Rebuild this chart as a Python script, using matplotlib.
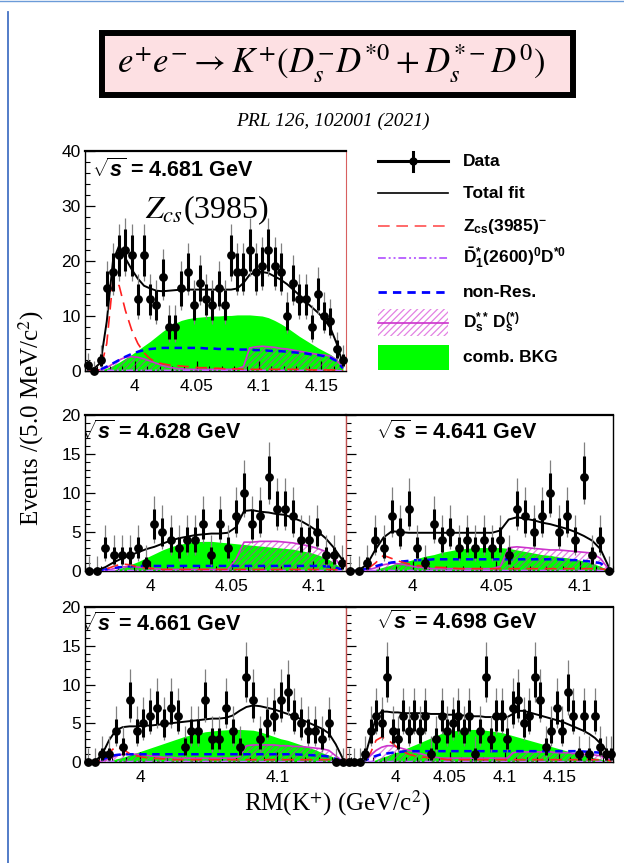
import numpy as np
import matplotlib
matplotlib.use("Agg")
import matplotlib.pyplot as plt
from matplotlib.patches import Rectangle
from matplotlib.ticker import FixedLocator, MultipleLocator, FuncFormatter

plt.rcParams['font.family'] = ['Liberation Sans', 'DejaVu Sans']
plt.rcParams['mathtext.fontset'] = 'custom'
plt.rcParams['mathtext.rm'] = 'Liberation Sans:bold'
plt.rcParams['mathtext.bf'] = 'Liberation Sans:bold'
plt.rcParams['mathtext.it'] = 'Liberation Sans:italic:bold'
plt.rcParams['mathtext.sf'] = 'Liberation Sans:bold'
plt.rcParams['hatch.linewidth'] = 0.9

# ---------------- data: RM(K+) spectra, 5 MeV bins ----------------
# sqrt(s) = 4.681 GeV
start_4681 = 3.9625
counts_4681 = [1, 0, 2, 15, 18, 21, 22, 21, 13, 21, 13, 12, 17, 8, 8, 15, 18, 12, 16, 13,
               12, 15, 12, 21, 18, 18, 22, 18, 19, 22, 19, 18, 10, 16, 13, 13, 8, 14, 10, 9,
               4, 2]
total_4681 = [0.3, 0.5, 1.5, 9, 20, 22.8, 20.5, 18.5, 16.8, 15.5, 15, 14.6, 14.5, 14.6, 14.7,
              14.8, 14.8, 14.8, 14.8, 14.8, 14.8, 14.8, 14.8, 14.8, 15, 16, 17.5, 18, 18, 17.8,
              17.2, 16.6, 15.8, 14.8, 13.8, 12.6, 11.6, 10.6, 9.4, 7.8, 5, 1.2]
zcs_4681 = [0, 0, 0.3, 5, 16.5, 15.5, 11, 7.5, 5, 3.3, 2.2, 1.6, 1.3, 1.1, 1.0, 0.9, 0.8, 0.7,
            0.6, 0.6, 0.5, 0.5, 0.4, 0.4, 0.4, 0.3, 0.3, 0.3, 0.3, 0.3, 0.3, 0.3, 0.3, 0.3,
            0.3, 0.3, 0.2, 0.2, 0.2, 0.2, 0.2, 0.1]
d1_4681 = [0, 0, 0.05, 0.1, 0.1, 0.1, 0.1, 0.1, 0.1, 0.1, 0.1, 0.1, 0.1, 0.1, 0.1, 0.1, 0.1,
           0.1, 0.1, 0.1, 0.1, 0.1, 0.1, 0.1, 0.1, 0.1, 0.1, 0.1, 0.1, 0.1, 0.1, 0.1, 0.1,
           0.1, 0.1, 0.1, 0.1, 0.1, 0.1, 0.1, 0.05, 0]
nonres_4681 = [0, 0, 0.3, 0.8, 1.4, 2.0, 2.6, 3.1, 3.5, 3.8, 4.0, 4.1, 4.2, 4.2, 4.2, 4.2, 4.2,
               4.2, 4.2, 4.1, 4.1, 4.0, 4.0, 4.0, 3.9, 3.9, 3.9, 3.8, 3.8, 3.7, 3.6, 3.6, 3.5,
               3.4, 3.3, 3.2, 3.0, 2.9, 2.7, 2.4, 1.8, 0.5]
dsds_4681 = [0, 0, 0.2, 0.6, 1.3, 2.0, 2.5, 2.6, 2.5, 2.2, 1.8, 1.4, 1.0, 0.7, 0.5, 0.4, 0.3,
             0.3, 0.3, 0.3, 0.3, 0.3, 0.3, 0.3, 0.4, 0.8, 4.2, 4.4, 4.5, 4.4, 4.3, 4.1, 4.0,
             3.8, 3.6, 3.4, 3.2, 3.0, 2.9, 2.7, 2.0, 0.6]
comb_4681 = [0, 0, 0.2, 0.5, 1.0, 1.6, 2.3, 3.0, 3.8, 4.6, 5.4, 6.3, 7.2, 8.0, 8.7, 9.2, 9.5,
             9.7, 9.8, 9.9, 10, 10, 10.1, 10.1, 10.2, 10.2, 10.2, 10.1, 10.0, 9.7, 9.2, 8.6,
             7.9, 7.1, 6.3, 5.6, 4.9, 4.2, 3.6, 3.0, 2.2, 0.8]

# sqrt(s) = 4.628 GeV
start_4628 = 3.9625
counts_4628 = [0, 0, 3, 2, 2, 2, 3, 1, 6, 5, 4, 3, 4, 4, 6, 2, 6, 3, 7, 10, 6, 7, 12, 8, 8, 7,
               4, 4, 5, 2, 2, 1]
total_4628 = [0, 0.1, 0.5, 1.1, 1.6, 2.0, 2.4, 2.8, 3.1, 3.5, 3.9, 4.2, 4.4, 4.6, 4.7, 4.8,
              4.8, 4.9, 5.6, 7.7, 7.8, 7.6, 7.5, 7.3, 7.2, 6.8, 6.4, 5.8, 5.1, 4.2, 3.0, 1.5]
zcs_4628 = [0, 0, 0.2, 0.6, 0.9, 0.8, 0.5, 0.4, 0.3, 0.2, 0.2, 0.2, 0.2, 0.2, 0.2, 0.2, 0.2,
            0.2, 0.2, 0.2, 0.2, 0.2, 0.2, 0.2, 0.2, 0.2, 0.2, 0.2, 0.2, 0.2, 0.2, 0.1]
d1_4628 = [0, 0, 0.05, 0.05, 0.05, 0.05, 0.05, 0.05, 0.05, 0.05, 0.05, 0.05, 0.05, 0.05, 0.05,
           0.05, 0.05, 0.05, 0.05, 0.05, 0.05, 0.05, 0.05, 0.05, 0.05, 0.05, 0.05, 0.05, 0.05,
           0.05, 0.05, 0]
nonres_4628 = [0, 0, 0.2, 0.4, 0.5, 0.6, 0.65, 0.65, 0.65, 0.65, 0.65, 0.65, 0.65, 0.65, 0.65,
               0.65, 0.65, 0.65, 0.65, 0.65, 0.65, 0.65, 0.65, 0.65, 0.65, 0.65, 0.65, 0.65,
               0.65, 0.6, 0.5, 0.2]
dsds_4628 = [0, 0, 0, 0.3, 0.5, 0.6, 0.5, 0.4, 0.3, 0.2, 0.2, 0.2, 0.2, 0.2, 0.2, 0.2, 0.2,
             0.2, 1.5, 3.7, 3.7, 3.8, 3.8, 3.8, 3.7, 3.6, 3.4, 3.2, 2.9, 2.5, 1.8, 0.5]
comb_4628 = [0, 0, 0, 0.1, 0.4, 0.8, 1.2, 1.7, 2.2, 2.7, 3.1, 3.4, 3.6, 3.75, 3.8, 3.8, 3.7,
             3.6, 3.5, 3.4, 3.3, 3.2, 3.1, 3.0, 2.9, 2.8, 2.6, 2.4, 2.1, 1.7, 1.1, 0.3]

# sqrt(s) = 4.641 GeV
start_4641 = 3.9625
counts_4641 = [0, 0, 1, 4, 3, 7, 5, 8, 3, 1, 6, 4, 5, 3, 4, 3, 4, 3, 4, 2, 8, 7, 5, 7, 10, 5,
               7, 4, 12, 2, 4, 0]
total_4641 = [0, 0.1, 0.8, 2.7, 4.3, 5.1, 5.0, 4.9, 4.9, 4.9, 4.9, 4.9, 4.9, 4.9, 4.9, 4.9,
              4.9, 4.9, 5.2, 6.6, 6.9, 6.7, 6.5, 6.2, 6.0, 5.7, 5.4, 5.0, 4.5, 3.9, 2.8, 0.5]
zcs_4641 = [0, 0, 0.2, 1.0, 2.0, 1.6, 1.2, 0.9, 0.7, 0.6, 0.5, 0.45, 0.4, 0.3, 0.3, 0.3, 0.3,
            0.3, 0.3, 0.3, 0.3, 0.3, 0.3, 0.3, 0.3, 0.3, 0.3, 0.3, 0.3, 0.3, 0.3, 0.1]
d1_4641 = [0, 0, 0.05, 0.05, 0.05, 0.05, 0.05, 0.05, 0.05, 0.05, 0.05, 0.05, 0.05, 0.05, 0.05,
           0.05, 0.05, 0.05, 0.05, 0.05, 0.05, 0.05, 0.05, 0.05, 0.05, 0.05, 0.05, 0.05, 0.05,
           0.05, 0.05, 0]
nonres_4641 = [0, 0, 0.3, 0.6, 0.9, 1.1, 1.2, 1.3, 1.4, 1.4, 1.5, 1.5, 1.5, 1.5, 1.5, 1.5,
               1.5, 1.5, 1.5, 1.5, 1.5, 1.5, 1.5, 1.5, 1.5, 1.5, 1.4, 1.4, 1.3, 1.2, 1.0, 0.2]
dsds_4641 = [0, 0, 0.1, 0.4, 0.8, 1.0, 0.9, 0.7, 0.5, 0.4, 0.3, 0.3, 0.3, 0.3, 0.3, 0.3, 0.3,
             0.3, 0.6, 3.0, 3.1, 3.0, 2.9, 2.8, 2.7, 2.7, 2.6, 2.5, 2.4, 2.3, 1.6, 0.2]
comb_4641 = [0, 0, 0, 0.2, 0.5, 0.8, 1.1, 1.3, 1.6, 1.9, 2.1, 2.4, 2.6, 2.8, 2.9, 3.0, 3.0,
             3.0, 3.0, 2.9, 2.7, 2.5, 2.3, 2.1, 2.0, 1.8, 1.7, 1.5, 1.3, 1.0, 0.6, 0.1]

# sqrt(s) = 4.661 GeV
start_4661 = 3.9625
counts_4661 = [0, 0, 1, 1, 4, 2, 8, 4, 5, 6, 7, 5, 7, 6, 2, 4, 4, 8, 3, 3, 7, 4, 2, 11, 8, 3,
               5, 6, 8, 9, 6, 5, 4, 4, 3, 5, 0, 0]
total_4661 = [0, 0.1, 1.0, 2.8, 4.1, 4.5, 4.6, 4.6, 4.7, 4.7, 4.8, 4.9, 5.0, 5.1, 5.2, 5.3,
              5.4, 5.5, 5.6, 5.6, 5.7, 6.0, 6.6, 7.1, 7.3, 7.2, 7.0, 6.8, 6.5, 6.2, 5.9, 5.5,
              5.1, 4.7, 4.3, 3.7, 2.3, 0.5]
zcs_4661 = [0, 0, 0.3, 1.2, 2.0, 1.6, 1.1, 0.8, 0.6, 0.5, 0.45, 0.4, 0.3, 0.3, 0.3, 0.3, 0.3,
            0.3, 0.3, 0.3, 0.3, 0.3, 0.3, 0.3, 0.3, 0.3, 0.3, 0.3, 0.3, 0.3, 0.3, 0.3, 0.3,
            0.3, 0.3, 0.3, 0.3, 0.1]
d1_4661 = [0, 0, 0.05, 0.05, 0.05, 0.05, 0.05, 0.05, 0.05, 0.05, 0.05, 0.05, 0.05, 0.05, 0.05,
           0.05, 0.05, 0.05, 0.05, 0.05, 0.05, 0.05, 0.05, 0.05, 0.05, 0.05, 0.05, 0.05, 0.05,
           0.05, 0.05, 0.05, 0.05, 0.05, 0.05, 0.05, 0.05, 0]
nonres_4661 = [0, 0, 0.3, 0.7, 0.9, 1.0, 1.0, 1.0, 1.0, 1.0, 1.0, 1.0, 1.0, 1.0, 1.0, 1.0, 1.0,
               1.0, 1.0, 1.0, 1.0, 1.0, 1.0, 1.0, 1.0, 1.0, 1.0, 1.0, 1.0, 1.0, 1.0, 0.95,
               0.9, 0.85, 0.8, 0.7, 0.4, 0.1]
dsds_4661 = [0, 0, 0.1, 0.4, 0.8, 1.0, 1.0, 1.0, 0.9, 0.8, 0.7, 0.6, 0.6, 0.5, 0.5, 0.5, 0.5,
             0.5, 0.5, 0.5, 0.5, 0.5, 0.7, 2.1, 2.2, 2.2, 2.2, 2.2, 2.1, 2.1, 2.0, 2.0, 1.9,
             1.8, 1.7, 1.5, 0.8, 0.1]
comb_4661 = [0, 0, 0, 0.1, 0.4, 0.6, 0.9, 1.2, 1.5, 1.8, 2.1, 2.4, 2.7, 3.0, 3.3, 3.5, 3.7,
             3.9, 4.0, 4.1, 4.15, 4.2, 4.2, 4.15, 4.1, 3.9, 3.6, 3.3, 3.0, 2.8, 2.5, 2.2, 1.9,
             1.6, 1.2, 0.9, 0.5, 0.1]

# sqrt(s) = 4.698 GeV
start_4698 = 3.9575
counts_4698 = [0, 0, 0, 1, 4, 6, 5, 11, 4, 3, 6, 4, 6, 4, 6, 1, 3, 6, 4, 5, 6, 4, 6, 1, 4, 11,
               3, 6, 6, 3, 7, 8, 5, 6, 11, 8, 2, 4, 7, 4, 9, 6, 1, 6, 1, 6, 2, 1, 1]
total_4698 = [0, 0, 0, 0.8, 3.3, 5.8, 6.5, 6.5, 6.4, 6.4, 6.3, 6.3, 6.3, 6.3, 6.3, 6.2, 6.2,
              6.2, 6.1, 6.1, 6.1, 6.0, 6.0, 5.9, 5.9, 5.8, 5.8, 5.8, 5.8, 5.8, 6.2, 6.6, 6.6,
              6.4, 6.2, 6.0, 5.8, 5.6, 5.4, 5.2, 4.9, 4.6, 4.3, 4.0, 3.6, 3.1, 2.4, 1.6, 0.8]
zcs_4698 = [0, 0, 0, 0.3, 1.2, 2.8, 3.2, 2.9, 2.4, 1.8, 1.3, 1.0, 0.8, 0.7, 0.6, 0.5, 0.45,
            0.4, 0.3, 0.3, 0.3, 0.3, 0.3, 0.3, 0.3, 0.3, 0.3, 0.3, 0.3, 0.3, 0.3, 0.3, 0.3,
            0.3, 0.3, 0.3, 0.3, 0.3, 0.3, 0.3, 0.3, 0.3, 0.3, 0.3, 0.3, 0.3, 0.3, 0.3, 0.1]
d1_4698 = [0, 0, 0, 0.05, 0.05, 0.05, 0.05, 0.05, 0.05, 0.05, 0.05, 0.05, 0.05, 0.05, 0.05,
           0.05, 0.05, 0.05, 0.05, 0.05, 0.05, 0.05, 0.05, 0.05, 0.05, 0.05, 0.05, 0.05, 0.05,
           0.05, 0.05, 0.05, 0.05, 0.05, 0.05, 0.05, 0.05, 0.05, 0.05, 0.05, 0.05, 0.05, 0.05,
           0.05, 0.05, 0.05, 0.05, 0.05, 0]
nonres_4698 = [0, 0, 0, 0.2, 0.5, 0.8, 1.0, 1.1, 1.2, 1.3, 1.35, 1.4, 1.4, 1.4, 1.4, 1.4, 1.4,
               1.4, 1.4, 1.4, 1.4, 1.4, 1.4, 1.4, 1.4, 1.4, 1.4, 1.4, 1.4, 1.4, 1.4, 1.4, 1.4,
               1.4, 1.4, 1.4, 1.4, 1.4, 1.4, 1.4, 1.4, 1.4, 1.4, 1.35, 1.3, 1.25, 1.2, 0.9, 0.5]
dsds_4698 = [0, 0, 0, 0.2, 0.9, 1.5, 1.9, 2.1, 2.1, 1.9, 1.7, 1.5, 1.3, 1.1, 0.9, 0.7, 0.6,
             0.5, 0.5, 0.5, 0.5, 0.5, 0.5, 0.5, 0.5, 0.5, 0.5, 0.5, 0.5, 0.5, 1.2, 1.3, 1.3,
             1.3, 1.3, 1.3, 1.3, 1.3, 1.2, 1.2, 1.2, 1.1, 1.1, 1.0, 1.0, 0.9, 0.8, 0.5, 0.2]
comb_4698 = [0, 0, 0, 0, 0.1, 0.3, 0.6, 0.8, 1.1, 1.3, 1.6, 1.9, 2.2, 2.5, 2.8, 3.1, 3.4, 3.7,
             3.9, 4.0, 4.1, 4.15, 4.2, 4.2, 4.2, 4.1, 4.0, 3.9, 3.8, 3.6, 3.4, 3.2, 3.0, 2.8,
             2.6, 2.4, 2.2, 2.0, 1.8, 1.6, 1.4, 1.2, 1.0, 0.9, 0.7, 0.5, 0.4, 0.2, 0.1]

bin_width = 0.005

# axis ranges and tick labels
xlim_4681, ylim_top = (3.96, 4.17), (0, 40)
xlim_4628, xlim_4641 = (3.96, 4.12), (3.96, 4.12)
xlim_4661, xlim_4698 = (3.96, 4.15), (3.955, 4.199)
ylim_low = (0, 20)
xticks_4681 = [4.0, 4.05, 4.1, 4.15]
xticks_4628 = [4.0, 4.05, 4.1]
xticks_4641 = [4.0, 4.05, 4.1]
xticks_4661 = [4.0, 4.1]
xticks_4698 = [4.0, 4.05, 4.1, 4.15]
yticks_top = [0, 10, 20, 30, 40]
yticks_low = [0, 5, 10, 15, 20]

# ---------------- figure ----------------
W, H = 624, 863
fig = plt.figure(figsize=(W / 100, H / 100), dpi=100)
fig.patch.set_facecolor('white')

# pixel-space overlay for frame, title box, legend and axis titles
ov = fig.add_axes([0, 0, 1, 1])
ov.set_xlim(0, W)
ov.set_ylim(H, 0)
ov.axis('off')

ov.plot([0, W], [1.5, 1.5], color='#6b9bd8', lw=1.0)
ov.plot([7.5, 7.5], [12, H], color='#4472c4', lw=1.3)

ov.add_patch(Rectangle((102, 33), 471, 62, facecolor='#fde0e3', edgecolor='black', lw=4.3))
ov.text(331, 64, r'$e^{+}e^{-}\rightarrow K^{+}(D_{s}^{-}D^{*0}+D_{s}^{*-}D^{0})$',
        ha='center', va='center', fontsize=25, math_fontfamily='stix')
ov.text(333, 121, 'PRL 126, 102001 (2021)', ha='center', va='center', fontsize=14,
        family='Liberation Serif', style='italic')

ov.text(31, 418, r'Events /(5.0 MeV/c$^{2}$)', rotation=90, ha='center', va='center',
        fontsize=18, family='Liberation Serif', math_fontfamily='stix')
ov.text(337, 803, r'RM(K$^{+}$) (GeV/c$^{2}$)', ha='center', va='center',
        fontsize=18, family='Liberation Serif', math_fontfamily='stix')

GREEN = '#00ff00'
HATCH = (0.8, 0.1, 0.8, 0.55)
MAGENTA = '#cc33cc'
VIOLET = '#bb66ff'
HATCH_STYLE = '/////'

# legend
lx0, lx1, tx = 378, 448, 463
ov.plot([lx0, lx1], [161, 161], color='black', lw=2.2)
ov.plot([413, 413], [152, 171], color='black', lw=2.2)
ov.plot([413], [161], 'o', color='black', ms=5)
ov.plot([lx0, lx1], [193, 193], color='black', lw=1.2)
ov.plot([lx0, lx1], [226, 226], color='#ff5050', lw=1.2, dashes=(7, 4))
ov.plot([lx0, lx1], [258, 258], color=VIOLET, lw=1.4, dashes=(4, 1.5, 1, 1.5, 1, 1.5))
ov.plot([lx0, lx1], [292, 292], color='#0000ff', lw=2.0, dashes=(3, 2.2))
ov.add_patch(Rectangle((lx0, 309), lx1 - lx0, 27, facecolor='none', edgecolor=HATCH,
                       hatch=HATCH_STYLE, lw=0))
ov.plot([lx0, lx1], [323, 323], color=MAGENTA, lw=1.2)
ov.add_patch(Rectangle((lx0, 345), lx1 - lx0 + 1, 25, facecolor=GREEN, edgecolor='none'))

leg_font = dict(fontsize=12.5, fontweight='bold', va='center', ha='left',
                math_fontfamily='custom')
ov.text(tx, 161, 'Data', **leg_font)
ov.text(tx, 193, 'Total fit', **leg_font)
ov.text(tx, 226, r'$\mathrm{Z_{cs}(3985)^{-}}$', **leg_font)
ov.text(tx, 258, r'$\bar{\mathrm{D}}^{*}_{1}\mathrm{(2600)^{0}D^{*0}}$', **leg_font)
ov.text(tx, 292, 'non-Res.', **leg_font)
ov.text(tx, 323, r'$\mathrm{D_{s}^{**}\,D_{s}^{(*)}}$', **leg_font)
ov.text(tx, 357, 'comb. BKG', **leg_font)


def make_axes(x0, y0, x1, y1):
    return fig.add_axes([x0 / W, 1 - y1 / H, (x1 - x0) / W, (y1 - y0) / H])


def style_axes(ax, xlim, ylim, xticks, xminor, yticks, yminor, ylabels, right_red):
    ax.set_xlim(*xlim)
    ax.set_ylim(*ylim)
    ax.xaxis.set_major_locator(FixedLocator(xticks))
    ax.xaxis.set_minor_locator(MultipleLocator(xminor))
    ax.yaxis.set_major_locator(FixedLocator(yticks))
    ax.yaxis.set_minor_locator(MultipleLocator(yminor))
    ax.xaxis.set_major_formatter(FuncFormatter(lambda v, p: '%g' % round(v, 3)))
    ax.yaxis.set_major_formatter(FuncFormatter(lambda v, p: '%g' % v))
    ax.tick_params(which='both', direction='in', top=False, right=False,
                   labelsize=12.5, colors='black')
    ax.tick_params(which='major', length=7, width=0.9)
    ax.tick_params(which='minor', length=3.5, width=0.8)
    ax.tick_params(axis='x', pad=6)
    ax.tick_params(axis='y', pad=3)
    if not ylabels:
        ax.tick_params(axis='y', labelleft=False)
    for s in ax.spines.values():
        s.set_linewidth(1.0)
    ax.spines['top'].set_linewidth(1.6)
    if right_red:
        ax.spines['right'].set_color('#d86060')
        ax.spines['right'].set_linewidth(0.8)
    else:
        ax.spines['left'].set_color('#c05050')


def draw_panel(ax, start, counts, total, zcs, d1, nonres, dsds, comb):
    n = np.asarray(counts, dtype=float)
    x = start + bin_width * np.arange(len(n))
    ax.fill_between(x, 0, comb, color=GREEN, lw=0, zorder=1)
    ax.fill_between(x, 0, dsds, facecolor='none', edgecolor=HATCH, hatch=HATCH_STYLE, lw=0,
                    zorder=2)
    ax.plot(x, dsds, color=MAGENTA, lw=1.2, zorder=3)
    ax.plot(x, nonres, color='#0000ff', lw=1.8, dashes=(3, 2.2), zorder=4)
    ax.plot(x, d1, color=VIOLET, lw=1.3, dashes=(4, 1.5, 1, 1.5, 1, 1.5), zorder=4)
    ax.plot(x, zcs, color='#ff2020', lw=1.2, dashes=(7, 4), zorder=4)
    ax.plot(x, total, color='black', lw=1.4, zorder=5)
    lo = n - np.sqrt(np.clip(n - 0.25, 0, None))
    hi = n + np.sqrt(n + 0.75) + 1.0
    ax.vlines(x, lo, hi, color='#808080', lw=0.9, zorder=6)
    s = 0.8 * np.sqrt(n)
    ax.vlines(x, n - s, n + s, color='black', lw=2.2, zorder=7)
    ax.plot(x, n, 'o', color='black', ms=5.3, zorder=8, clip_on=False)


def sqrt_s_label(ax, px, py, text, size):
    ax.text(px, py, r'$\sqrt{s}$ = ' + text + ' GeV', transform=ov.transData,
            fontsize=size, fontweight='bold', ha='left', va='baseline',
            math_fontfamily='custom', clip_on=True, zorder=10)


# top panel
ax0 = make_axes(85, 151, 346, 371)
style_axes(ax0, xlim_4681, ylim_top, xticks_4681, 0.01, yticks_top, 2, True, True)
draw_panel(ax0, start_4681, counts_4681, total_4681, zcs_4681, d1_4681, nonres_4681,
           dsds_4681, comb_4681)
sqrt_s_label(ax0, 92, 177, '4.681', 15.5)
ax0.text(207, 218, r'$Z_{cs}$(3985)', transform=ov.transData, ha='center', va='baseline',
         fontsize=23, family='Liberation Serif', math_fontfamily='stix', zorder=10)

# middle row
ax1 = make_axes(85, 415, 346, 571)
style_axes(ax1, xlim_4628, ylim_low, xticks_4628, 0.01, yticks_low, 1, True, True)
draw_panel(ax1, start_4628, counts_4628, total_4628, zcs_4628, d1_4628, nonres_4628,
           dsds_4628, comb_4628)
sqrt_s_label(ax1, 80, 439, '4.628', 15.5)

ax2 = make_axes(346, 415, 613, 571)
style_axes(ax2, xlim_4641, ylim_low, xticks_4641, 0.01, yticks_low, 1, False, False)
draw_panel(ax2, start_4641, counts_4641, total_4641, zcs_4641, d1_4641, nonres_4641,
           dsds_4641, comb_4641)
sqrt_s_label(ax2, 376, 439, '4.641', 15.5)

# bottom row
ax3 = make_axes(85, 607, 346, 762)
style_axes(ax3, xlim_4661, ylim_low, xticks_4661, 0.01, yticks_low, 1, True, True)
draw_panel(ax3, start_4661, counts_4661, total_4661, zcs_4661, d1_4661, nonres_4661,
           dsds_4661, comb_4661)
sqrt_s_label(ax3, 80, 631, '4.661', 15.5)

ax4 = make_axes(346, 607, 613, 762)
style_axes(ax4, xlim_4698, ylim_low, xticks_4698, 0.01, yticks_low, 1, False, False)
draw_panel(ax4, start_4698, counts_4698, total_4698, zcs_4698, d1_4698, nonres_4698,
           dsds_4698, comb_4698)
sqrt_s_label(ax4, 376, 629, '4.698', 15.5)

fig.savefig('out.png', dpi=100, facecolor='white')
